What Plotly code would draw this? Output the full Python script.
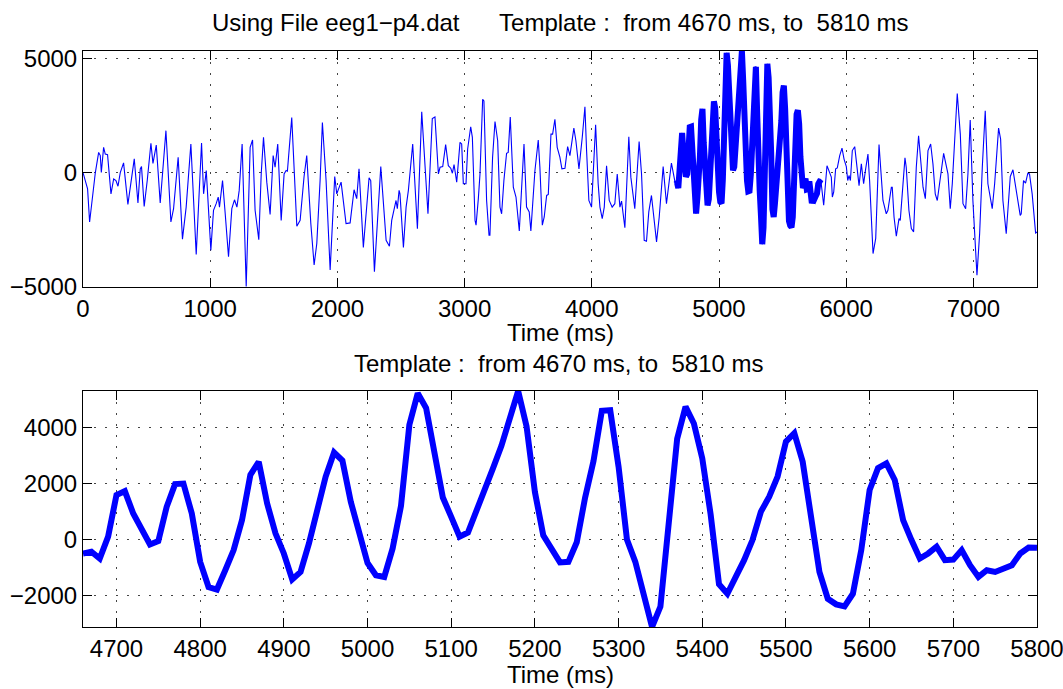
import plotly.graph_objects as go
from plotly.subplots import make_subplots

# ---- data ----
# EEG trace before the template (time ms, value)
pre_t = [0, 23, 36, 52, 83, 97, 123, 136, 144, 162, 175, 193, 220, 241, 259, 275, 293, 319, 353, 377,
         403, 432, 450, 460, 481, 505, 534, 550, 576, 607, 652, 691, 712, 748, 782, 811, 848, 890, 932,
         948, 969, 1005, 1026, 1047, 1063, 1073, 1097, 1118, 1144, 1170, 1191, 1210, 1228, 1251, 1283,
         1314, 1333, 1353, 1382, 1401, 1419, 1445, 1471, 1495, 1510, 1531, 1558, 1581, 1597, 1607, 1641,
         1681, 1707, 1738, 1759, 1791, 1817, 1838, 1864, 1882,
         1911, 1943, 1979, 1995, 2029, 2068, 2100, 2131, 2152, 2170, 2204, 2249, 2262, 2291, 2341, 2383,
         2409, 2427, 2461, 2471, 2485, 2492, 2519, 2540, 2558, 2592, 2629, 2663, 2712, 2746, 2767, 2794,
         2807, 2828,
         2851, 2872, 2891, 2904, 2917, 2938, 2964, 2977, 2990, 3011, 3024, 3048, 3061, 3082, 3090, 3108,
         3121, 3142, 3152, 3173, 3192, 3199, 3220, 3239, 3260, 3278, 3291, 3309, 3330, 3343, 3359, 3383,
         3404, 3430, 3448, 3467, 3487, 3508, 3521, 3540, 3553, 3579, 3592, 3611, 3626, 3645, 3658, 3679,
         3692, 3710, 3728, 3749, 3765,
         3789, 3810, 3828, 3859, 3875, 3899, 3925, 3946, 3959, 3977, 3998, 4011, 4030, 4050, 4064, 4082,
         4098, 4116, 4137, 4160, 4181, 4200, 4221, 4234, 4260, 4291, 4307, 4338, 4372, 4391, 4412, 4430,
         4448, 4469, 4488, 4509, 4530, 4561, 4587, 4626, 4652]
pre_v = [0, -490, -710, -2160, -780, 0, 880, 740, 0, 1100, 810, 780, -930, -280, -350, -600, 0, 420, -1390, -490,
         600, -1330, 160, 260, -1480, -350, 1280, 400, 1200, -1330, 1830, -2160, -1580, 670, -2910, -1510, 1250, -3580, 1290,
         -930, 90, -3390, -1650, -1360, -1070, -1510, -350, -1800, -3680, -1580, -1190, -1510, -780, 1250, -4980,
         1100, 1420, -1650, -2930, -60, 1540, -420, -1830, 740, 230, 1250, -2090, -60, 90, 60, 2400,
         -2350, -2090, -170, 740, -2230, -4040, -3100, -350, 2190,
         -350, -4260, -170, -930, -420, -2230, -2200, -750, -1140, 160, -3270, -230, -350, -4330, 260, -2960,
         -3220, -2090, -1220, -1580, -780, -930, -3270, -1510, -780, 1250, -2450, 2650, -1800, 2360, 2430, -60,
         230, 260,
         1220, 300, 190, -30, 350, -420, 1320, 1250, -490, -490, 1030, 2000, 1540, -2090, -2300, -1140,
         -60, 3200, 3130, -1220, -2740, -2740, 670, 2230, 1390, -1510, -1800, -350, 840, 880, 2430, -640,
         -1070, -2550, -780, 1250, -1510, -1720, -2550, -780, 90, 1420, 230, -2300, -1940, -1000, -960, 1680,
         1680, 2330, 1100, 670, 160,
         190, 1130, 740, 1940, 1390, 160, 1540, 2870, 960, -1220, -1510, -60, 2090, -490, -1510, -2010,
         -1510, 300, -1220, -1510, -1360, -60, -1510, -1250, -2410, 1560, -200, -1580, 1360, -60, -2960, -3000,
         -1720, -1000, -1870, -3030, -1940, 260, -1360, 410, -350]

# Template segment (10 ms samples starting at 4660 ms)
tmpl_start = 4660
tmpl_step = 10
tmpl_v = [-500, -440, -680, 100, 1590, 1730, 930, 330, -180, -60,
          1170, 1980, 2000, 930, -800, -1700, -1790, -1100, -380, 690,
          2310, 2780, 1290, 220, -500, -1430, -1160, -140, 1170, 2250,
          3110, 2820, 1350, 220, -840, -1280, -1340, -320, 1200, 4100,
          5230, 4700, 3200, 1500, 810, 100, 250, 1000, 1700, 2550,
          3350, 4250, 5310, 4050, 1700, 150, -350, -820, -800, -100,
          1500, 2800, 4600, 4620, 2600, 0, -800, -1900, -3130, -2400,
          450, 3600, 4750, 4150, 2900, 900, -1600, -1940, -1340, -740,
          -20, 990, 1530, 2250, 3500, 3800, 2780, 810, -1160, -2120,
          -2320, -2390, -1940, -380, 1770, 2550, 2720, 2130, 690, -20,
          -680, -500, -260, -740, -720, -380, -920, -1340, -1100, -1160,
          -1040, -920, -500, -290, -300]
tmpl_t = [tmpl_start + tmpl_step * i for i in range(len(tmpl_v))]

# EEG trace after the template
post_t = [5823, 5849, 5870, 5883, 5891, 5902, 5917, 5930, 5949, 5967, 5983, 6001, 6012, 6022, 6033, 6048,
          6067, 6085, 6101, 6119, 6137, 6153, 6171, 6184, 6211, 6232, 6258, 6289, 6315, 6328, 6355, 6362,
          6376, 6394, 6415, 6425, 6446, 6462, 6472, 6493, 6512, 6530, 6551, 6569,
          6604, 6622, 6643, 6664, 6682, 6700, 6716, 6742, 6766, 6800, 6818, 6834, 6852, 6873, 6897, 6918,
          6939, 6957, 6975, 6996, 7028, 7049, 7070, 7093, 7114, 7148, 7167, 7198, 7214, 7232, 7258, 7276,
          7290, 7311, 7331, 7350, 7368, 7376, 7394, 7410, 7428, 7441, 7462, 7489, 7500]
post_v = [-1430, 300, 0, -200, -1070, -850, 160, 200, 740, 1070, 590, 260, -350, -130, -350, 960,
          1130, 230, -570, 380, -490, 160, 810, -350, -3540, -2880, 1220, -1220, -1800, -1650, -640, -640,
          -1940, -2780, -2010, -2090, -350, 640, 230, -1650, -2450, -2590, 230, 1610,
          -640, -1140, 960, 1250, 380, -930, -1220, -130, 840, -60, -1580, -490, 1390, 3450, 1680, -1360,
          -1580, -60, 2290, -1220, -4480, -2670, 230, 2700, -490, -1580, -490, 1940, 1460, -1220, -2670, -1220,
          -170, 120, -640, -1220, -1870, -1800, -350, -460, -30, -60, -930, -2640, -2600]

full_t = pre_t + tmpl_t + post_t
full_v = pre_v + tmpl_v + post_v

top_title = "Using File eeg1\u2212p4.dat      Template :  from 4670 ms, to  5810 ms"
bot_title = "Template :  from 4670 ms, to  5810 ms"
x_title = "Time (ms)"
top_xticks = [0, 1000, 2000, 3000, 4000, 5000, 6000, 7000]
top_yticks = [-5000, 0, 5000]
bot_xticks = [4700, 4800, 4900, 5000, 5100, 5200, 5300, 5400, 5500, 5600, 5700, 5800]
bot_yticks = [-2000, 0, 2000, 4000]

# ---- figure ----
W, H = 1063, 689
ML, MR, MT, MB = 83, 26, 51, 62
PH = H - MT - MB
PW = W - ML - MR

def py(ypx):
    return (H - MB - ypx) / PH

def px(xpx):
    return (xpx - ML) / PW

FONT = "Liberation Sans, Arial, Helvetica, sans-serif"
FS = 24
BLUE = "rgb(0,0,255)"

fig = make_subplots(rows=2, cols=1)
fig.add_trace(go.Scatter(x=full_t, y=full_v, mode="lines",
                         line=dict(color=BLUE, width=1.1), showlegend=False), row=1, col=1)
fig.add_trace(go.Scatter(x=tmpl_t, y=tmpl_v, mode="lines",
                         line=dict(color=BLUE, width=6), showlegend=False), row=1, col=1)
fig.add_trace(go.Scatter(x=tmpl_t, y=tmpl_v, mode="lines",
                         line=dict(color=BLUE, width=6), showlegend=False), row=2, col=1)

axis_common = dict(showline=True, linecolor="black", linewidth=1, mirror="ticks",
                   ticks="inside", ticklen=9, tickcolor="black", automargin=False,
                   ticklabeloverflow="allow",
                   showgrid=True, gridcolor="#444", gridwidth=1, griddash="2px,9px",
                   zeroline=False, tickfont=dict(family=FONT, size=FS, color="black"))

fig.update_xaxes(**axis_common)
fig.update_yaxes(**axis_common)

fig.update_layout(
    width=W, height=H,
    margin=dict(l=ML, r=MR, t=MT, b=MB, autoexpand=False),
    paper_bgcolor="white", plot_bgcolor="white",
    font=dict(family=FONT, size=FS, color="black"),
    xaxis=dict(domain=[0, 1], range=[0, 7500], tickvals=top_xticks, anchor="y"),
    yaxis=dict(domain=[py(287), 1], range=[-5000, 5310], tickvals=top_yticks, anchor="x"),
    xaxis2=dict(domain=[0, 1], range=[4660, 5800], tickvals=bot_xticks, anchor="y2"),
    yaxis2=dict(domain=[0, py(391)], range=[-3130, 5310], tickvals=bot_yticks, anchor="x2"),
    annotations=[
        dict(text=top_title, x=px(560), xref="paper", y=py(23), yref="paper",
             showarrow=False, xanchor="center", yanchor="middle", font=dict(size=FS)),
        dict(text=x_title, x=px(560), xref="paper", y=py(332), yref="paper",
             showarrow=False, xanchor="center", yanchor="middle", font=dict(size=FS)),
        dict(text=bot_title, x=px(559), xref="paper", y=py(363), yref="paper",
             showarrow=False, xanchor="center", yanchor="middle", font=dict(size=FS)),
        dict(text=x_title, x=px(560), xref="paper", y=py(674), yref="paper",
             showarrow=False, xanchor="center", yanchor="middle", font=dict(size=FS)),
    ],
)

fig.write_html("out.html",
               config={"displayModeBar": False},
               post_script="document.body.style.margin='0';document.body.style.overflow='hidden';")
